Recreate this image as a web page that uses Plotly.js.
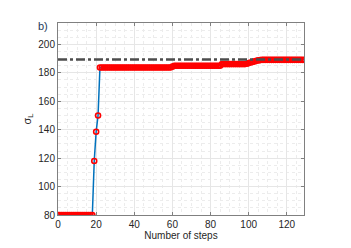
<!DOCTYPE html>
<html>
<head>
<meta charset="utf-8">
<script src="https://cdn.plot.ly/plotly-3.0.1.min.js"></script>
<style>html,body{margin:0;padding:0;background:#fff;}#chart{width:351px;height:248px;}</style>
</head>
<body>
<div id="chart"></div>
<script>
// Step index (x) and sigma_L values
var steps = [0,1,2,3,4,5,6,7,8,9,10,11,12,13,14,15,16,17,18,19,20,21,22,23,24,25,26,27,28,29,
  30,31,32,33,34,35,36,37,38,39,40,41,42,43,44,45,46,47,48,49,50,51,52,53,54,55,56,57,58,59,
  60,61,62,63,64,65,66,67,68,69,70,71,72,73,74,75,76,77,78,79,80,81,82,83,84,85,86,87,88,89,
  90,91,92,93,94,95,96,97,98,99,100,101,102,103,104,105,106,107,108,109,110,111,112,113,114,115,116,117,118,119,
  120,121,122,123,124,125,126,127,128,129];
var sigmaL = [80,80,80,80,80,80,80,80,80,80,80,80,80,80,80,80,80,80,80,
  118,138.5,150,
  183.7,183.7,183.7,183.7,183.7,183.7,183.7,183.7,183.7,183.7,183.7,183.7,183.7,183.7,183.7,183.7,183.7,183.7,183.7,
  183.7,183.7,183.7,183.7,183.7,183.7,183.7,183.7,183.7,183.7,183.7,183.7,183.7,183.7,183.7,183.7,183.7,183.7,183.7,
  184.3,
  184.9,184.9,184.9,184.9,184.9,184.9,184.9,184.9,184.9,184.9,184.9,184.9,184.9,184.9,184.9,184.9,184.9,184.9,184.9,184.9,
  184.9,184.9,184.9,184.9,184.9,
  186.1,186.1,186.1,186.1,186.1,186.1,186.1,186.1,186.1,186.1,186.1,186.1,186.1,
  186.4,186.8,187.2,187.6,188.0,188.4,188.7,188.9,
  189.1,189.1,189.1,189.1,189.1,189.1,189.1,189.1,189.1,189.1,189.1,189.1,189.1,189.1,189.1,189.1,189.1,189.1,189.1,189.1,
  189.1,189.1,189.1];
var refX = [0, 129];
var refLevel = [189.3, 189.3];
var xTicks = [0,20,40,60,80,100,120];
var yTicks = [80,100,120,140,160,180,200];

var font = {family: 'Liberation Sans, Arial, sans-serif', size: 10, color: '#262626'};
var traces = [
  {x: steps, y: sigmaL, mode: 'lines', line: {color: '#0072BD', width: 1.5}},
  {x: steps, y: sigmaL, mode: 'markers', marker: {color: '#ff0000', size: 5, symbol: 'circle-open', line: {color: '#ff0000', width: 1.6}}},
  {x: refX, y: refLevel, mode: 'lines', line: {color: '#4d4d4d', width: 2.5, dash: '9px,3px,3px,3px'}, hoverinfo: 'skip'}
];
var axisCommon = {
  showline: true, linecolor: '#808080', linewidth: 1, mirror: 'ticks',
  ticks: 'inside', ticklen: 3, tickcolor: '#808080',
  showgrid: true, gridcolor: '#e6e6e6', gridwidth: 1, zeroline: false,
  tickfont: font
};
var layout = {
  width: 351, height: 248,
  margin: {l: 58, r: 47, t: 23, b: 33},
  paper_bgcolor: '#ffffff', plot_bgcolor: '#ffffff',
  showlegend: false,
  font: font,
  xaxis: Object.assign({}, axisCommon, {
    range: [0, 129], tickmode: 'array', tickvals: xTicks,
    minor: {dtick: 5, showgrid: true, gridcolor: '#ececec', griddash: 'dot', ticks: ''},
    title: {text: 'Number of steps', font: {family: font.family, size: 10, color: '#262626'}, standoff: 2}
  }),
  yaxis: Object.assign({}, axisCommon, {
    range: [80, 215], tickmode: 'array', tickvals: yTicks,
    minor: {dtick: 5, showgrid: true, gridcolor: '#ececec', griddash: 'dot', ticks: ''},
    title: {text: 'σ<sub>L</sub>', font: {family: font.family, size: 11, color: '#262626'}, standoff: 4}
  }),
  annotations: [{
    text: 'b)', xref: 'paper', yref: 'paper', x: 0, y: 1, xanchor: 'left', yanchor: 'middle',
    xshift: -22, yshift: -3, showarrow: false,
    font: {family: font.family, size: 11, color: '#1f3a5a'}
  }]
};
Plotly.newPlot('chart', traces, layout, {staticPlot: true, displayModeBar: false});
</script>
</body>
</html>
